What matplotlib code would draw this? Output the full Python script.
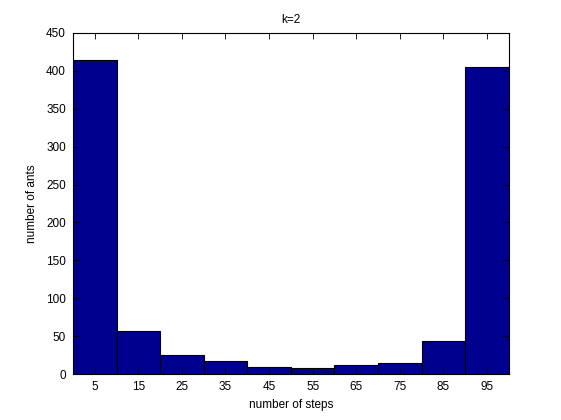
import matplotlib
matplotlib.use("Agg")
import matplotlib.pyplot as plt

# histogram bins (number of steps) and counts
centers = [5, 15, 25, 35, 45, 55, 65, 75, 85, 95]
counts = [414, 57, 25, 17, 9, 8, 12, 15, 44, 405]

plt.rcParams['font.family'] = ['Liberation Sans', 'DejaVu Sans']
plt.rcParams['font.size'] = 8.5

fig = plt.figure(figsize=(5.61, 4.2), dpi=100)
ax = fig.add_axes([0.13, 0.109, 0.777, 0.813])

ax.bar(centers, counts, width=10, color=(0, 0, 0.5625), edgecolor='black', linewidth=0.8)

ax.set_xlim(0, 100)
ax.set_ylim(0, 450)
ax.set_xticks(centers)
ax.set_yticks(range(0, 451, 50))
ax.tick_params(direction='in', top=True, right=True, length=4, width=0.6, pad=5)
for s in ax.spines.values():
    s.set_linewidth(0.8)

ax.set_title("k=2", fontsize=8.5, pad=7)
ax.set_xlabel("number of steps", labelpad=4)
ax.set_ylabel("number of ants", labelpad=6)

fig.savefig("out.png", dpi=100)
